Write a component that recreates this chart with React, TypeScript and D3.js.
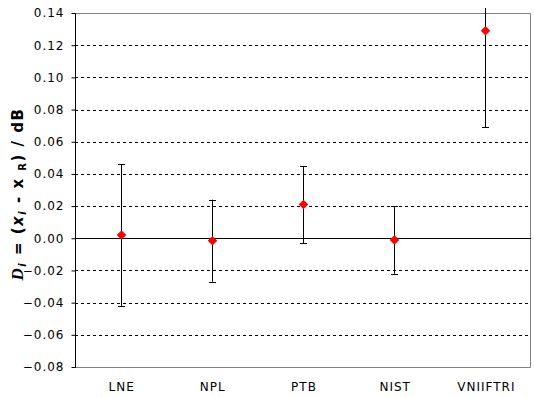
import React, { useEffect, useRef } from 'react';
import * as d3 from 'd3';

const labs = ['LNE', 'NPL', 'PTB', 'NIST', 'VNIIFTRI'];
const vals = [0.002, -0.0015, 0.021, -0.001, 0.129];
const errs = [0.044, 0.0255, 0.024, 0.021, 0.06];
const yTicks = [-0.08, -0.06, -0.04, -0.02, 0, 0.02, 0.04, 0.06, 0.08, 0.1, 0.12, 0.14];

export default function App() {
    const ref = useRef<SVGSVGElement>(null);

    useEffect(() => {
        drawChart();
        // eslint-disable-next-line
    }, []);

    function drawChart() {
        const W = 534, H = 397;
        const m = { top: 13, right: 3, bottom: 30, left: 75 };
        const svg = d3.select(ref.current);
        svg.selectAll('*').remove();
        const font = 'Verdana, "DejaVu Sans", sans-serif';

        const x = d3.scaleBand().domain(labs).range([m.left, W - m.right]);
        const y = d3.scaleLinear().domain([-0.08, 0.14]).range([H - m.bottom, m.top]);

        svg.append('defs').append('clipPath').attr('id', 'clip')
            .append('rect').attr('x', 0).attr('y', 8).attr('width', W).attr('height', H - 8);

        // dashed gridlines
        svg.append('g').selectAll('line')
            .data(yTicks.filter((t) => t !== 0 && t !== 0.14 && t !== -0.08))
            .enter().append('line')
            .attr('x1', m.left).attr('x2', W - m.right)
            .attr('y1', (d) => Math.round(y(d)) + 0.5).attr('y2', (d) => Math.round(y(d)) + 0.5)
            .attr('stroke', '#000').attr('stroke-dasharray', '3,3');

        // gray frame
        const top = Math.round(y(0.14)) + 0.5, bot = Math.round(y(-0.08)) + 0.5;
        svg.append('path')
            .attr('d', `M${m.left},${top}H${W - m.right - 0.5}V${bot}H${m.left}`)
            .attr('fill', 'none').attr('stroke', '#808080');

        // zero line
        svg.append('line')
            .attr('x1', m.left).attr('x2', W - m.right)
            .attr('y1', Math.round(y(0)) + 0.5).attr('y2', Math.round(y(0)) + 0.5)
            .attr('stroke', '#000');

        // y axis
        const ax = svg.append('g').attr('transform', `translate(${m.left + 0.5},0)`)
            .call(d3.axisLeft(y).tickValues(yTicks).tickSize(4).tickPadding(7).tickFormat(d3.format('.2f')));
        ax.selectAll('text').attr('font-family', font).attr('font-size', 12)
            .attr('letter-spacing', 1).attr('fill', '#000');
        ax.selectAll('line, path').attr('stroke', '#000');
        ax.select('.domain').attr('d', `M0,${top}V${bot}`);

        // x labels
        svg.append('g').selectAll('text').data(labs).enter().append('text')
            .attr('x', (d) => x(d)! + x.bandwidth() / 2 + 1)
            .attr('y', 391)
            .attr('text-anchor', 'middle')
            .attr('font-family', font).attr('font-size', 12).attr('letter-spacing', 1)
            .text((d) => d);

        // error bars
        const g = svg.append('g').attr('clip-path', 'url(#clip)');
        labs.forEach((l, i) => {
            const cx = Math.round(x(l)! + x.bandwidth() / 2) + 0.5;
            const hi = y(vals[i] + errs[i]), lo = y(vals[i] - errs[i]);
            g.append('line').attr('x1', cx).attr('x2', cx).attr('y1', hi).attr('y2', lo).attr('stroke', '#000');
            [hi, lo].forEach((yy) => {
                g.append('line').attr('x1', cx - 3.5).attr('x2', cx + 3.5)
                    .attr('y1', Math.round(yy) + 0.5).attr('y2', Math.round(yy) + 0.5).attr('stroke', '#000');
            });
            g.append('path')
                .attr('d', d3.symbol(d3.symbolDiamond2, 58)())
                .attr('transform', `translate(${cx},${y(vals[i])})`)
                .attr('fill', '#ff0000');
        });

        // y title
        const t = svg.append('text')
            .attr('transform', `translate(23,194) rotate(-90)`)
            .attr('text-anchor', 'middle')
            .attr('font-family', font).attr('font-size', 15).attr('font-weight', 'bold')
            .attr('letter-spacing', 1.5);
        t.append('tspan').attr('font-style', 'italic').attr('font-family', 'Liberation Serif, serif').attr('font-size', 17).text('D');
        t.append('tspan').attr('font-style', 'italic').attr('font-size', 10).attr('dy', 3).text('i');
        t.append('tspan').attr('dy', -3).text(' = (');
        t.append('tspan').attr('font-style', 'italic').text('x');
        t.append('tspan').attr('font-style', 'italic').attr('font-size', 10).attr('dy', 3).text('i');
        t.append('tspan').attr('dy', -3).text(' - x ');
        t.append('tspan').attr('font-size', 10).attr('dy', 3).text('R');
        t.append('tspan').attr('dy', -3).text(') / dB');
    }

    return (
        <div style={{ position: 'absolute', left: 0, top: 0 }}>
            <svg ref={ref} width={534} height={397} style={{ display: 'block', background: '#fff' }} />
        </div>
    );
}
